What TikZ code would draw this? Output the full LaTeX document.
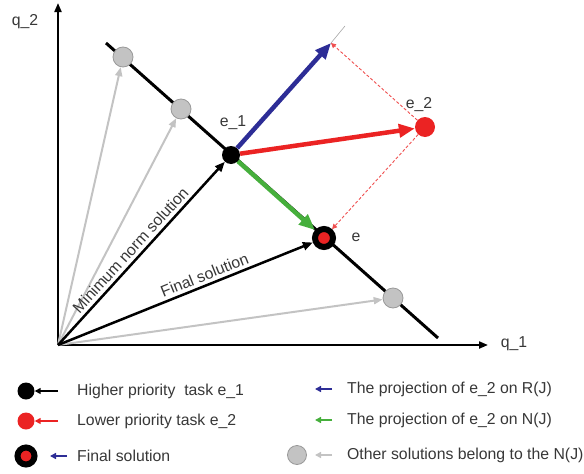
\documentclass[tikz,border=0pt]{standalone}
\usepackage{fontspec}
\setmainfont{Liberation Sans}
\usetikzlibrary{arrows.meta}

\definecolor{projblue}{RGB}{45,45,150}
\definecolor{taskred}{RGB}{235,35,35}
\definecolor{nullgreen}{RGB}{70,175,60}
\definecolor{solgray}{RGB}{195,195,195}
\definecolor{txt}{RGB}{55,55,55}

\tikzset{
  dot/.style={circle, inner sep=0pt, minimum size=18pt},
  graydot/.style={dot, fill=solgray, draw=gray!80, line width=0.8pt, minimum size=20pt},
  finaldot/.style={circle, inner sep=0pt, minimum size=18pt, fill=taskred, draw=black, line width=6pt},
  axis/.style={line width=2pt, -{Triangle[length=9pt,width=7pt]}},
  fat/.style={line width=4.5pt, -{Triangle[length=16pt,width=13pt]}},
  sol/.style={line width=2.5pt, -{Triangle[length=10pt,width=8pt]}},
  other/.style={line width=2pt, solgray, -{Triangle[length=9pt,width=7pt]}},
  hint/.style={line width=0.9pt, taskred!80, dash pattern=on 3pt off 2pt, -{Triangle[length=5pt,width=5pt]}},
  key/.style={line width=2pt, -{Triangle[length=6pt,width=6pt]}},
  keytext/.style={anchor=west, inner sep=0pt}
}

\begin{document}
\begin{tikzpicture}[x=1pt,y=-1pt,font=\fontsize{15.8}{18}\selectfont,text=txt]
  \useasboundingbox (0,0) rectangle (584,474);
  \coordinate (o) at (58,345);
  \coordinate (xend) at (488,345);
  \coordinate (yend) at (58,3);
  \coordinate (na) at (106,43);
  \coordinate (nb) at (438,338);
  \coordinate (bt) at (331,43);
  \coordinate (rt) at (345,26);
  % axes
  \draw[axis] (o) -- (xend);
  \draw[axis] (o) -- (yend);
  \node (q1) at (514,344) {q\_1};
  \node (q2) at (25,22) {q\_2};
  % null space line
  \draw[line width=3pt] (na) -- (nb);
  \draw[line width=0.6pt, gray!70] (bt) -- (rt);
  % points
  \node[dot, fill=black] (e1) at (231,155) {};
  \node[dot, fill=taskred, minimum size=20pt] (e2) at (425,127) {};
  \node[finaldot] (e) at (324,238) {};
  \foreach \n/\p in {g1/{123,57}, g2/{181,109}, g3/{393,298}}
    \node[graydot] (\n) at (\p) {};
  \node (le1) at (233,123) {e\_1};
  \node (le2) at (419,105) {e\_2};
  \node (le) at (356,237) {e};
  % solutions from the origin
  \foreach \n in {g1, g2, g3}
    \draw[other] (o) -- (\n);
  \draw[sol] (o) -- (e1) node[pos=0.48, sloped, above] {Minimum norm solution};
  \draw[sol] (o) -- (e) node[pos=0.59, sloped, above] {Final solution};
  % projections
  \draw[fat, projblue] (e1) -- (bt);
  \draw[fat, taskred] (e1) -- (e2);
  \draw[fat, nullgreen] (e1) -- (e);
  \draw[hint] (e2) -- (bt);
  \draw[hint] (e2) -- (e);
  % legend
  \node[dot, fill=black, minimum size=17pt] (k1) at (26,391) {};
  \node[dot, fill=taskred, minimum size=17pt] (k2) at (26,421) {};
  \node[finaldot, minimum size=17pt] (k3) at (26,456) {};
  \node[graydot, minimum size=19pt] (k6) at (297,455) {};
  \node[keytext] (t1) at (77,391) {Higher priority\ \ task e\_1};
  \node[keytext] (t2) at (77,421) {Lower priority task e\_2};
  \node[keytext] (t3) at (77,456) {Final solution};
  \node[keytext] (t4) at (347,389) {The projection of e\_2 on R(J)};
  \node[keytext] (t5) at (347,420) {The projection of e\_2 on N(J)};
  \node[keytext] (t6) at (347,455) {Other solutions belong to the N(J)};
  \draw[key, black] ([xshift=32pt]k1.center) -- (k1);
  \draw[key, taskred] ([xshift=32pt]k2.center) -- (k2);
  \draw[key, projblue] ([xshift=-10pt]t3.west) -- ([xshift=-27pt]t3.west);
  \foreach \t/\c in {t4/projblue, t5/nullgreen, t6/solgray}
    \draw[key, \c] ([xshift=-15pt]\t.west) -- ([xshift=-32pt]\t.west);
\end{tikzpicture}
\end{document}
